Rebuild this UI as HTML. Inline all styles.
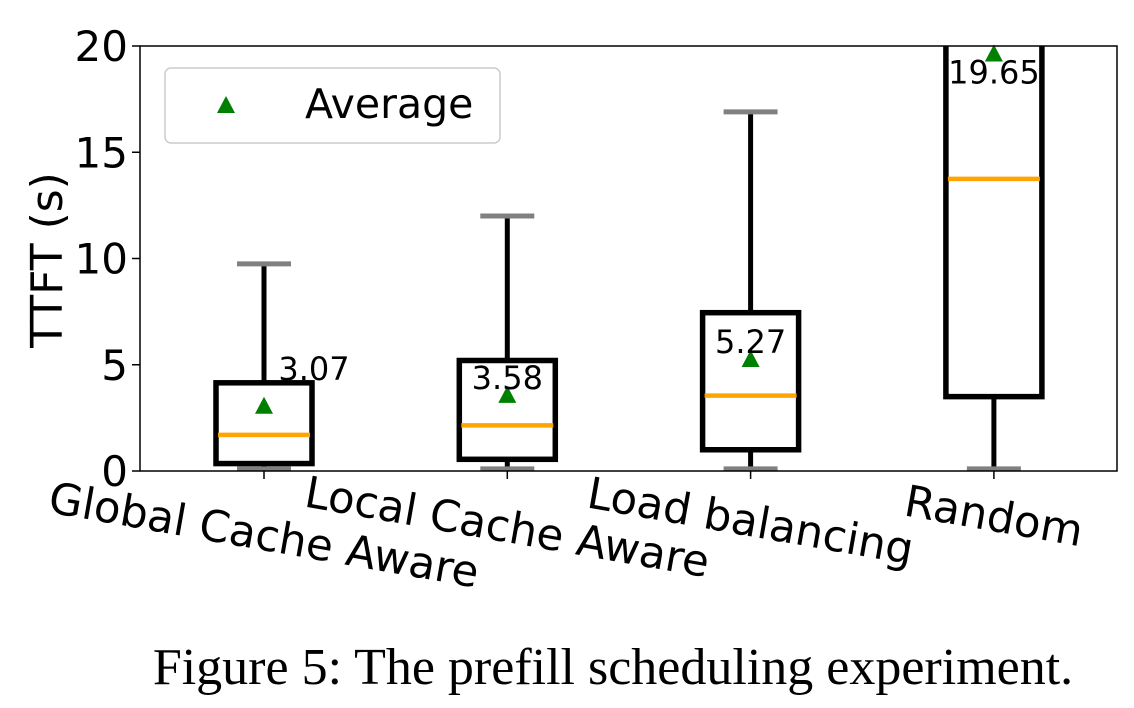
<!DOCTYPE html>
<html><head><meta charset="utf-8"><style>
html,body{margin:0;padding:0;background:#fff;width:1134px;height:708px;overflow:hidden}
svg{display:block}
text{font-family:"DejaVu Sans","Liberation Sans",sans-serif}
</style></head><body>
<svg id="chart" width="1134" height="708" xmlns="http://www.w3.org/2000/svg">
<defs><clipPath id="pc"><rect x="140" y="46" width="977" height="425"/></clipPath></defs>
<g id="plot"></g>
<rect x="165" y="68" width="335" height="75" rx="6" fill="#fff" stroke="#ccc" stroke-width="1.5"/>
<polygon points="226,96 217,113 235,113" fill="#008000"/>
<text x="305" y="118" font-size="41" fill="#000">Average</text>
<text x="613" y="684" font-size="52" text-anchor="middle" style="font-family:'Liberation Serif',serif">Figure 5: The prefill scheduling experiment.</text>
</svg>
<script>
const categories=["Global Cache Aware","Local Cache Aware","Load balancing","Random"];
const whiskerLow=[0.1,0.1,0.1,0.1];
const q1=[0.35,0.55,1.0,3.5];
const medians=[1.7,2.15,3.55,13.75];
const q3=[4.15,5.2,7.45,24];
const whiskerHigh=[9.75,12.0,16.9,30];
const means=[3.07,3.58,5.27,19.65];
const meanLabels=["3.07","3.58","5.27","19.65"];
const yTicks=[0,5,10,15,20];
const labelDx=[50,0,0,0];
const labelDy=[-26,-6,-6,30];

const NS="http://www.w3.org/2000/svg";
const X0=140,X1=1117,Y0=471,Y1=46;
const y=v=>Y0-(v/20)*(Y0-Y1);
const x=i=>264+i*243.3;
const plot=document.getElementById('plot');
function mk(tag,attrs,parent){const e=document.createElementNS(NS,tag);for(const k in attrs)e.setAttribute(k,attrs[k]);(parent||plot).appendChild(e);return e;}
const clipG=mk('g',{'clip-path':'url(#pc)'});


categories.forEach((c,i)=>{
  const cx=x(i);
  let e;
  e=mk('line',{x1:cx,x2:cx,y1:y(q3[i]),y2:y(whiskerHigh[i]),stroke:'#000','stroke-width':5},clipG);
  
  
  e=mk('line',{x1:cx,x2:cx,y1:y(q1[i]),y2:y(whiskerLow[i]),stroke:'#000','stroke-width':5},clipG);
  
  
  e=mk('line',{x1:cx-27,x2:cx+27,y1:y(whiskerHigh[i]),y2:y(whiskerHigh[i]),stroke:'#808080','stroke-width':5},clipG);
  
  
  e=mk('line',{x1:cx-27,x2:cx+27,y1:y(whiskerLow[i]),y2:y(whiskerLow[i]),stroke:'#808080','stroke-width':5},clipG);
  
  
  e=mk('rect',{x:cx-48,width:96,y:y(q3[i]),height:y(q1[i])-y(q3[i]),fill:'none',stroke:'#000','stroke-width':5.5},clipG);
  
  
  e=mk('line',{x1:cx-46,x2:cx+46,y1:y(medians[i]),y2:y(medians[i]),stroke:'#ffa500','stroke-width':4.5},clipG);
  
  
  const my=y(means[i]);
  e=mk('polygon',{points:`${cx},${my-9} ${cx-9},${my+8} ${cx+9},${my+8}`,fill:'#008000'});
  
  
  e=mk('text',{x:cx+labelDx[i],y:my+labelDy[i],'font-size':32,'text-anchor':'middle',fill:'#000'});
  e.textContent=meanLabels[i];
  
  
  e=mk('line',{x1:cx,x2:cx,y1:Y0,y2:Y0+8,stroke:'#000','stroke-width':1.5});
  
  
  const ly=[550,542,536,531][i];
  e=mk('text',{x:cx,y:ly,'font-size':43.5,'text-anchor':'middle',transform:`rotate(10 ${cx} ${ly-15})`});
  e.textContent=c;
  
  
});
yTicks.forEach(t=>{
  let e=mk('line',{x1:X0-8,x2:X0,y1:y(t),y2:y(t),stroke:'#000','stroke-width':1.5});
  
  
  e=mk('text',{x:X0-12,y:y(t)+15,'font-size':42,'text-anchor':'end'});
  e.textContent=t;
  
  
});
let fr=mk('rect',{x:X0,y:Y1,width:X1-X0,height:Y0-Y1,fill:'none',stroke:'#000','stroke-width':1.5});


let yt=mk('text',{x:0,y:0,'font-size':44,'text-anchor':'middle',transform:'translate(62 260) rotate(-90)'});
yt.textContent='TTFT (s)';


</script>
</body></html>
